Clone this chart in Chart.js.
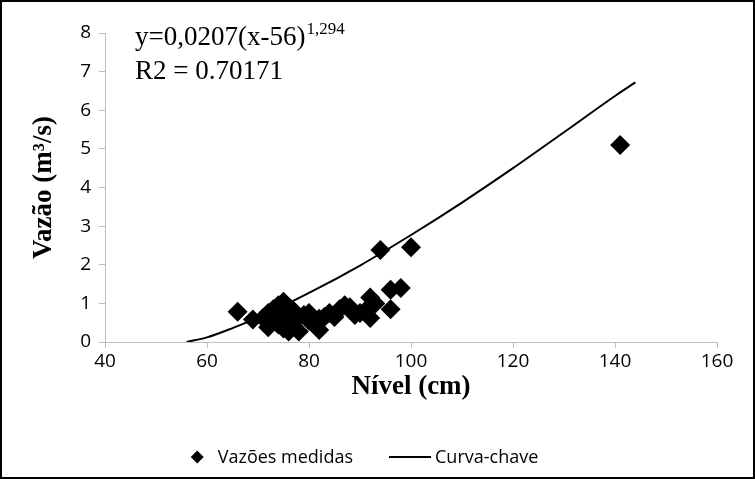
<!DOCTYPE html>
<html lang="pt">
<head>
<meta charset="utf-8">
<title>Curva-chave</title>
<script src="https://cdn.jsdelivr.net/npm/chart.js@4.4.1/dist/chart.umd.min.js"></script>
<style>
  html, body { margin: 0; padding: 0; background: #fff; }
  #frame { width: 755px; height: 479px; box-sizing: border-box; border: 2px solid #000; }
  canvas { display: block; }
</style>
</head>
<body>
<div id="frame"><canvas id="chart" width="751" height="475"></canvas></div>
<script>
// vazões medidas (nível em cm, vazão em m3/s)
const nivelMedido = [66, 69, 71, 72, 72, 73, 73, 74, 74, 75, 75, 75, 76, 76, 76, 77, 77, 78, 78, 79, 80, 80, 81, 82, 82, 83, 84, 85, 86, 87, 88, 89, 90, 91, 92, 92, 93, 94, 96, 96, 98, 100, 141];
const vazaoMedida = [0.78, 0.58, 0.62, 0.38, 0.75, 0.55, 0.85, 0.45, 0.95, 1.04, 0.7, 0.35, 0.9, 0.55, 0.27, 0.8, 0.4, 0.27, 0.65, 0.7, 0.75, 0.55, 0.6, 0.31, 0.6, 0.65, 0.75, 0.65, 0.85, 0.95, 0.9, 0.7, 0.75, 0.8, 1.15, 0.62, 1.0, 2.38, 1.35, 0.85, 1.4, 2.45, 5.1];

// curva-chave, pontos lidos ao longo da linha
const nivelCurva = [56, 60, 65, 70, 80, 90, 100, 110, 120, 130, 140, 144];
const vazaoCurva = [0, 0.12, 0.36, 0.63, 1.27, 1.98, 2.77, 3.61, 4.5, 5.43, 6.37, 6.72];

const xTicks = [40, 60, 80, 100, 120, 140, 160];
const yTicks = [0, 1, 2, 3, 4, 5, 6, 7, 8];
const equacao = ["y=0,0207(x-56)", "1,294"];
const r2Texto = "R2 = 0.70171";

const SANS = '"Open Sans", sans-serif';
const SERIF = '"Liberation Serif", "Times New Roman", serif';
const AXIS_GREY = "#bfbfbf";

const toPoints = (xs, ys) => xs.map((x, i) => ({ x, y: ys[i] }));

const equationLabel = {
  id: "equationLabel",
  afterDraw(chart) {
    const { ctx } = chart;
    ctx.save();
    ctx.fillStyle = "#000";
    ctx.textBaseline = "alphabetic";
    ctx.font = `27px ${SERIF}`;
    ctx.fillText(equacao[0], 133, 43);
    const w = ctx.measureText(equacao[0]).width;
    ctx.font = `17px ${SERIF}`;
    ctx.fillText(equacao[1], 133 + w + 1, 32);
    ctx.font = `27px ${SERIF}`;
    ctx.fillText(r2Texto, 133, 77);
    ctx.restore();
  },
};

// legenda desenhada à mão para ter o losango pequeno e a linha comprida
const bottomLegend = {
  id: "bottomLegend",
  afterDraw(chart) {
    const { ctx } = chart;
    const [medidas, curva] = chart.data.datasets;
    const y = 455;
    ctx.save();
    ctx.font = `18px ${SANS}`;
    ctx.textBaseline = "middle";
    ctx.fillStyle = "#000";
    const w1 = ctx.measureText(medidas.label).width;
    const w2 = ctx.measureText(curva.label).width;
    const total = 13 + 14 + w1 + 36 + 42 + 4 + w2;
    let x = chart.width / 2 - 13 - total / 2;
    ctx.beginPath();
    ctx.moveTo(x, y);
    ctx.lineTo(x + 6.5, y - 6.5);
    ctx.lineTo(x + 13, y);
    ctx.lineTo(x + 6.5, y + 6.5);
    ctx.closePath();
    ctx.fill();
    x += 13 + 14;
    ctx.fillText(medidas.label, x, y + 1);
    x += w1 + 36;
    ctx.strokeStyle = "#000";
    ctx.lineWidth = 2;
    ctx.beginPath();
    ctx.moveTo(x, y);
    ctx.lineTo(x + 42, y);
    ctx.stroke();
    x += 42 + 4;
    ctx.fillText(curva.label, x, y + 1);
    ctx.restore();
  },
};

new Chart(document.getElementById("chart"), {
  type: "scatter",
  data: {
    datasets: [
      {
        label: "Vazões medidas",
        data: toPoints(nivelMedido, vazaoMedida),
        pointStyle: "rectRot",
        pointRadius: 10,
        backgroundColor: "#000",
        borderColor: "#000",
        borderWidth: 0,
        order: 0,
      },
      {
        type: "line",
        label: "Curva-chave",
        data: toPoints(nivelCurva, vazaoCurva),
        borderColor: "#000",
        borderWidth: 2,
        pointRadius: 0,
        fill: false,
        cubicInterpolationMode: "monotone",
        order: 1,
      },
    ],
  },
  options: {
    responsive: false,
    animation: false,
    layout: { padding: { left: 18, right: 36, top: 31, bottom: 74 } },
    plugins: {
      tooltip: { enabled: false },
      legend: { display: false },
    },
    scales: {
      x: {
        type: "linear",
        min: xTicks[0],
        max: xTicks[xTicks.length - 1],
        afterBuildTicks: (scale) => { scale.ticks = xTicks.map((value) => ({ value })); },
        afterFit: (scale) => { scale.height = 61; },
        ticks: { color: "#000", font: { family: SANS, size: 19 }, padding: 2 },
        grid: { drawOnChartArea: false, tickLength: 6, color: AXIS_GREY },
        border: { color: AXIS_GREY },
        title: { display: true, text: "Nível (cm)", color: "#000", font: { family: SERIF, size: 27, weight: "bold" }, padding: { top: 4, bottom: 0 } },
      },
      y: {
        min: yTicks[0],
        max: yTicks[yTicks.length - 1],
        afterBuildTicks: (scale) => { scale.ticks = yTicks.map((value) => ({ value })); },
        afterFit: (scale) => { scale.width = 85; },
        ticks: { color: "#000", font: { family: SANS, size: 19 }, padding: 8 },
        grid: { drawOnChartArea: false, tickLength: 6, color: AXIS_GREY },
        border: { color: AXIS_GREY },
        title: { display: true, text: "Vazão (m³/s)", color: "#000", font: { family: SERIF, size: 27, weight: "bold" }, padding: { top: 8, bottom: 0 } },
      },
    },
  },
  plugins: [equationLabel, bottomLegend],
});
</script>
</body>
</html>
